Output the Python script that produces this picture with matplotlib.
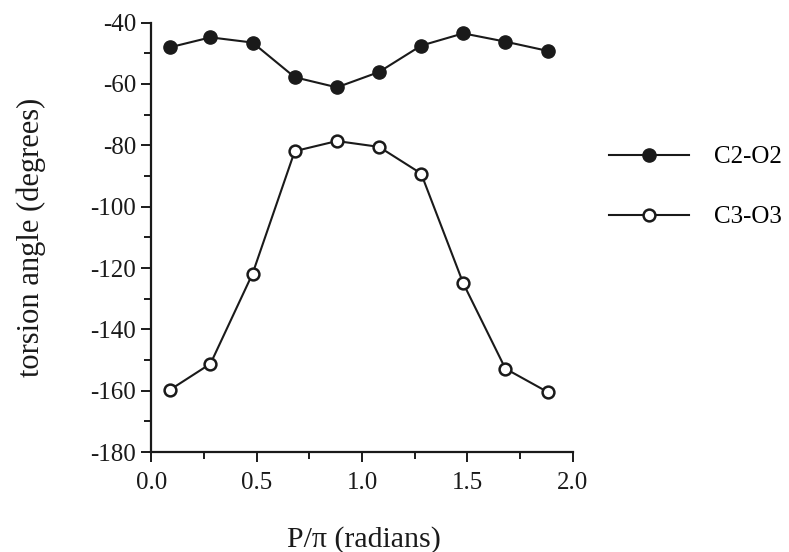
import matplotlib.pyplot as plt
import numpy as np
from matplotlib.ticker import MultipleLocator

# P/pi values and torsion angles
p_over_pi = [0.09, 0.28, 0.48, 0.68, 0.88, 1.08, 1.28, 1.48, 1.68, 1.88]
c2_o2 = [-48.0, -44.8, -46.5, -57.8, -61.1, -56.1, -47.5, -43.5, -46.2, -49.2]
c3_o3 = [-159.6, -151.2, -121.8, -81.9, -78.6, -80.5, -89.2, -125.0, -152.8, -160.4]

plt.rcParams['font.family'] = ['Liberation Serif', 'DejaVu Serif']
ink = '#1a1a1a'

fig = plt.figure(figsize=(7.89, 5.52), dpi=100)
ax = fig.add_axes([0.192, 0.181, 0.534, 0.778])

ax.plot(p_over_pi, c2_o2, '-o', color=ink, lw=1.5, ms=9.5,
        mfc=ink, mec=ink, label='C2-O2')
ax.plot(p_over_pi, c3_o3, '-o', color=ink, lw=1.5, ms=8.5,
        mfc='white', mec=ink, mew=1.8, label='C3-O3')

ax.set_xlim(0, 2.0)
ax.set_ylim(-180, -40)
ax.xaxis.set_major_locator(MultipleLocator(0.5))
ax.xaxis.set_minor_locator(MultipleLocator(0.25))
ax.yaxis.set_major_locator(MultipleLocator(20))
ax.yaxis.set_minor_locator(MultipleLocator(10))
ax.xaxis.set_major_formatter(plt.FuncFormatter(lambda v, p: f'{v:.1f}'))
ax.yaxis.set_major_formatter(plt.FuncFormatter(lambda v, p: f'{int(v)}'))

for s in ['top', 'right']:
    ax.spines[s].set_visible(False)
for s in ['left', 'bottom']:
    ax.spines[s].set_linewidth(1.6)
    ax.spines[s].set_color(ink)

ax.tick_params(which='major', direction='out', length=7, width=1.4, labelsize=18,
               colors=ink)
ax.tick_params(axis='x', which='major', pad=7)
ax.tick_params(axis='y', which='major', pad=4)
ax.tick_params(which='minor', direction='out', length=5, width=1.4, colors=ink)

ax.set_xlabel('P/\u03c0 (radians)', fontsize=21.5, color=ink)
ax.set_ylabel('torsion angle (degrees)', fontsize=22, color=ink)
ax.xaxis.set_label_coords(0.505, -0.203)
ax.yaxis.set_label_coords(-0.286, 0.5)
ax.xaxis.label.set_va('center')
ax.yaxis.label.set_va('center')

ax.legend(loc='center left', bbox_to_anchor=(609 / 789, 1 - 187 / 552),
          bbox_transform=fig.transFigure, frameon=False, borderpad=0,
          borderaxespad=0, handlelength=3.2, fontsize=18, labelspacing=1.5,
          handletextpad=1.0)

plt.savefig('out.png', dpi=100)
